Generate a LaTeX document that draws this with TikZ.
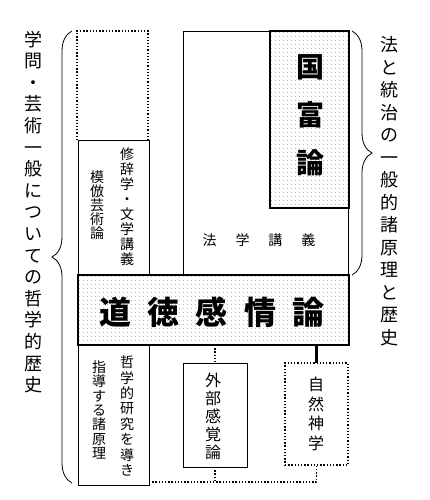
\documentclass[tikz,border=0pt]{standalone}
\usepackage{fontspec}
\newfontfamily\jp{Noto Sans CJK JP}
\usetikzlibrary{patterns.meta,decorations.pathreplacing}
\begin{document}
\begin{tikzpicture}[x=1pt,y=-1pt,
  box/.style={draw, line width=0.9pt, inner sep=0pt, outer sep=0pt, anchor=north west},
  dotline/.style={line width=1.3pt, dash pattern=on 1.3pt off 1.9pt},
  dotbox/.style={box, draw, dotline},
  heavybox/.style={box, line width=2.4pt, pattern={Dots[distance=4pt, radius=0.45pt]}, pattern color=black!55},
  vt/.style={align=center, inner sep=0pt, font=\jp\fontsize{14}{15}\selectfont},
  bigbrace/.style={decorate, decoration={brace, amplitude=20pt}, line width=0.8pt}]
\useasboundingbox (0,0) rectangle (429,500);
\fill[white] (0,0) rectangle (429,500);

% left column top (dotted part)
\node[box, draw=none, minimum width=71pt, minimum height=109pt] (topdot) at (77,31) {};
\draw[dotline] (topdot.south west) -- (topdot.north west) -- (topdot.north east) -- (topdot.south east);
\node[box, minimum width=71pt, minimum height=135pt] (rhet) at (78,140) {};
\node[box, minimum width=165pt, minimum height=244pt] (law) at (183,31) {};
\node[heavybox, anchor=north east, minimum width=79pt, minimum height=177pt] (wn) at (349,31) {};
\node[heavybox, minimum width=271pt, minimum height=70pt] (tms) at (78,275) {};
\node[box, minimum width=71pt, minimum height=140pt] (phil) at (78,345) {};
\node[box, minimum width=64pt, minimum height=104pt] (ext) at (183,363) {};
\node[dotbox, minimum width=63pt, minimum height=102pt] (nat) at (285,363) {};

% connectors
\coordinate (ybot) at (0,482);
\draw[dotline] (ext.north |- tms.south) -- (ext.north);
\draw[dotline] (ext.south) -- (ext.south |- ybot);
\draw[line width=2.4pt] (nat.north |- tms.south) -- (nat.north);
\draw[dotline] (phil.east |- ybot) -- (nat.south |- ybot) -- (nat.south);

% braces
\coordinate (lb1) at (72,483);
\coordinate (lb2) at (72,31);
\draw[bigbrace] (lb1) -- (lb2);
\coordinate (rb1) at (352,31);
\coordinate (rb2) at (352,275);
\draw[bigbrace] (rb1) -- (rb2);

% texts
\node[vt, font=\jp\fontsize{18}{21.6}\selectfont] (ltxt) at (33,212) {学\\問\\・\\芸\\術\\一\\般\\に\\つ\\い\\て\\の\\哲\\学\\的\\歴\\史};
\node[vt, font=\jp\fontsize{18}{22.5}\selectfont] (rtxt) at (389,191) {法\\と\\統\\治\\の\\一\\般\\的\\諸\\原\\理\\と\\歴\\史};
\node[vt] (t1) at (127,207) {修\\辞\\学\\・\\文\\学\\講\\義};
\node[vt, font=\jp\fontsize{14}{14}\selectfont] (t2) at (97,205) {模\\倣\\芸\\術\\論};
\node[vt, font=\jp\fontsize{14}{14}\selectfont] (t3) at (259,240) {法\hspace{19pt}学\hspace{19pt}講\hspace{19pt}義};
\node[vt, font=\jp\bfseries\fontsize{28}{48}\selectfont] (t4) at (310,115) {国\\富\\論};
\node[vt, font=\jp\bfseries\fontsize{32}{32}\selectfont] (t5) at (212,312) {道\hspace{16.5pt}徳\hspace{16.5pt}感\hspace{16.5pt}情\hspace{16.5pt}論};
\node[vt, font=\jp\fontsize{14}{15.4}\selectfont] (t6) at (127,416) {哲\\学\\的\\研\\究\\を\\導\\き};
\node[vt, font=\jp\fontsize{14}{14.3}\selectfont] (t7) at (99,410) {指\\導\\す\\る\\諸\\原\\理};
\node[vt, font=\jp\fontsize{16}{18}\selectfont] (t8) at (213,416) {外\\部\\感\\覚\\論};
\node[vt, font=\jp\fontsize{16}{19.5}\selectfont] (t9) at (316,414) {自\\然\\神\\学};
\end{tikzpicture}
\end{document}
